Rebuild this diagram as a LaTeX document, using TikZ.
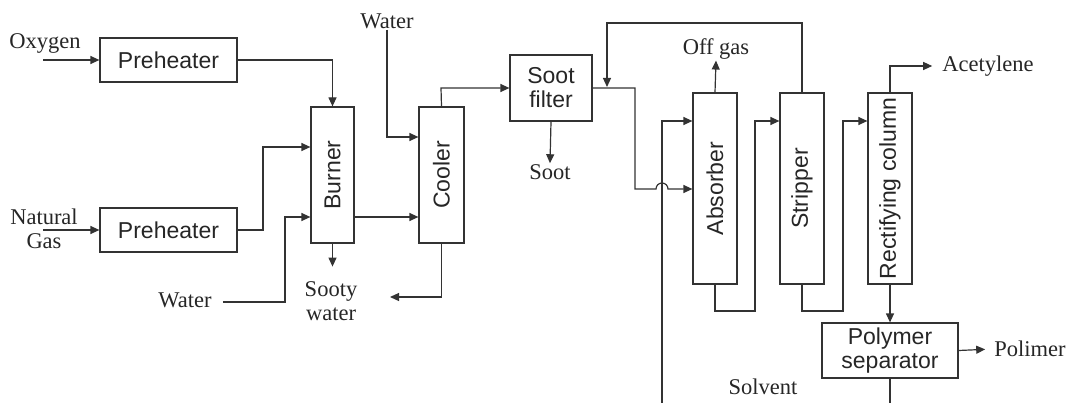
\documentclass[tikz,border=0pt]{standalone}
\usepackage{fontspec}
\setmainfont{Liberation Serif}
\setsansfont{Liberation Sans}
\usetikzlibrary{arrows.meta,calc}

\tikzset{
  unit/.style={draw=black!80,line width=1.2pt,font=\sffamily\fontsize{23}{27}\selectfont,
    text=black!85,inner sep=0pt,align=center},
  tag/.style={font=\fontsize{22.5}{27}\selectfont,text=black!85,inner sep=1pt,align=center},
  flow/.style={draw=black!80,line width=1.2pt,-{Triangle[length=9pt,width=8pt]}},
  pipe/.style={draw=black!80,line width=1.2pt}
}

\begin{document}
\begin{tikzpicture}[x=1pt,y=-1pt]
\useasboundingbox (0,0) rectangle (1073,403);

% units
\node[unit,minimum width=137,minimum height=44] (pre1) at (168.5,60) {Preheater};
\node[unit,minimum width=137,minimum height=44] (pre2) at (168.5,230) {Preheater};
\node[unit,minimum width=43,minimum height=136] (burner) at (332.5,175) {\rotatebox{90}{Burner}};
\node[unit,minimum width=45,minimum height=136] (cooler) at (441.5,175) {\rotatebox{90}{Cooler}};
\node[unit,minimum width=82,minimum height=66] (filter) at (551,88) {Soot\\[-3pt]filter};
\node[unit,minimum width=44,minimum height=191] (absorber) at (715,188.5) {\rotatebox{90}{Absorber}};
\node[unit,minimum width=44,minimum height=191] (stripper) at (802,188.5) {\rotatebox{90}{Stripper}};
\node[unit,minimum width=44,minimum height=191] (rect) at (890,188.5) {\rotatebox{90}{Rectifying column}};
\node[unit,minimum width=136,minimum height=55] (sep) at (890,350.5) {Polymer\\[-3pt]separator};

% streams
\node[tag] (oxygen) at (45,43) {Oxygen};
\node[tag] (gas) at (44,229) {Natural\\[-3pt]Gas};
\node[tag] (water1) at (185,300) {Water};
\node[tag] (sooty) at (331,301) {Sooty\\[-3pt]water};
\node[tag] (water2) at (387,21) {Water};
\node[tag] (soot) at (550,172) {Soot};
\node[tag] (offgas) at (716,49) {Off gas};
\node[tag] (acet) at (988,66) {Acetylene};
\node[tag] (polimer) at (1030,349) {Polimer};
\node[tag] (solvent) at (763,387) {Solvent};

\coordinate (sootyout) at (390,297);
\coordinate (mix) at (607,87);
\coordinate (solventin) at (662,403);
\coordinate (sepout) at (890,403);

\draw[flow] (43,60) -- (pre1.west);
\draw[flow] (43,230) -- (pre2.west);
\draw[flow] (pre1.east) -| (burner.north);
\draw[flow] (pre2.east) -- (263,230) -- (263,147) -- (burner.west |- 0,147);
\draw[flow] ([xshift=10pt]water1.east |- 0,302) -- (285,302) -- (285,217) -- (burner.west |- 0,217);
\draw[flow] (burner.south) -- ++(0,23);
\draw[flow] (burner.east |- 0,217) -- (cooler.west |- 0,217);
\draw[flow] (water2.south) -- (387,137) -- (cooler.west |- 0,137);
\draw[flow] (cooler.north) -- (441,88) -- (filter.west);
\draw[flow] (cooler.south) |- (sootyout);
\draw[flow] (filter.south) -- (soot.north);
\draw[flow] (filter.east) -- (635,88) -- (635,189) -- (656,189)
    arc[start angle=180,end angle=0,radius=6pt] -- (absorber.west |- 0,189);
\draw[flow] (stripper.north) -- (802,23) -| (mix);
\draw[flow] (solventin) |- (absorber.west |- 0,121);
\draw[flow] (absorber.north) -- (offgas.south);
\draw[flow] (absorber.south) |- (755,311) -- (755,121) -- (stripper.west |- 0,121);
\draw[flow] (stripper.south) |- (843,311) -- (843,121) -- (rect.west |- 0,121);
\draw[flow,shorten >=9pt] (rect.north) |- (acet.west);
\draw[flow] (rect.south) -- (sep.north);
\draw[flow,shorten >=8pt] (sep.east) -- (polimer.west);
\draw[pipe] (sep.south) -- (sepout);
\end{tikzpicture}
\end{document}
